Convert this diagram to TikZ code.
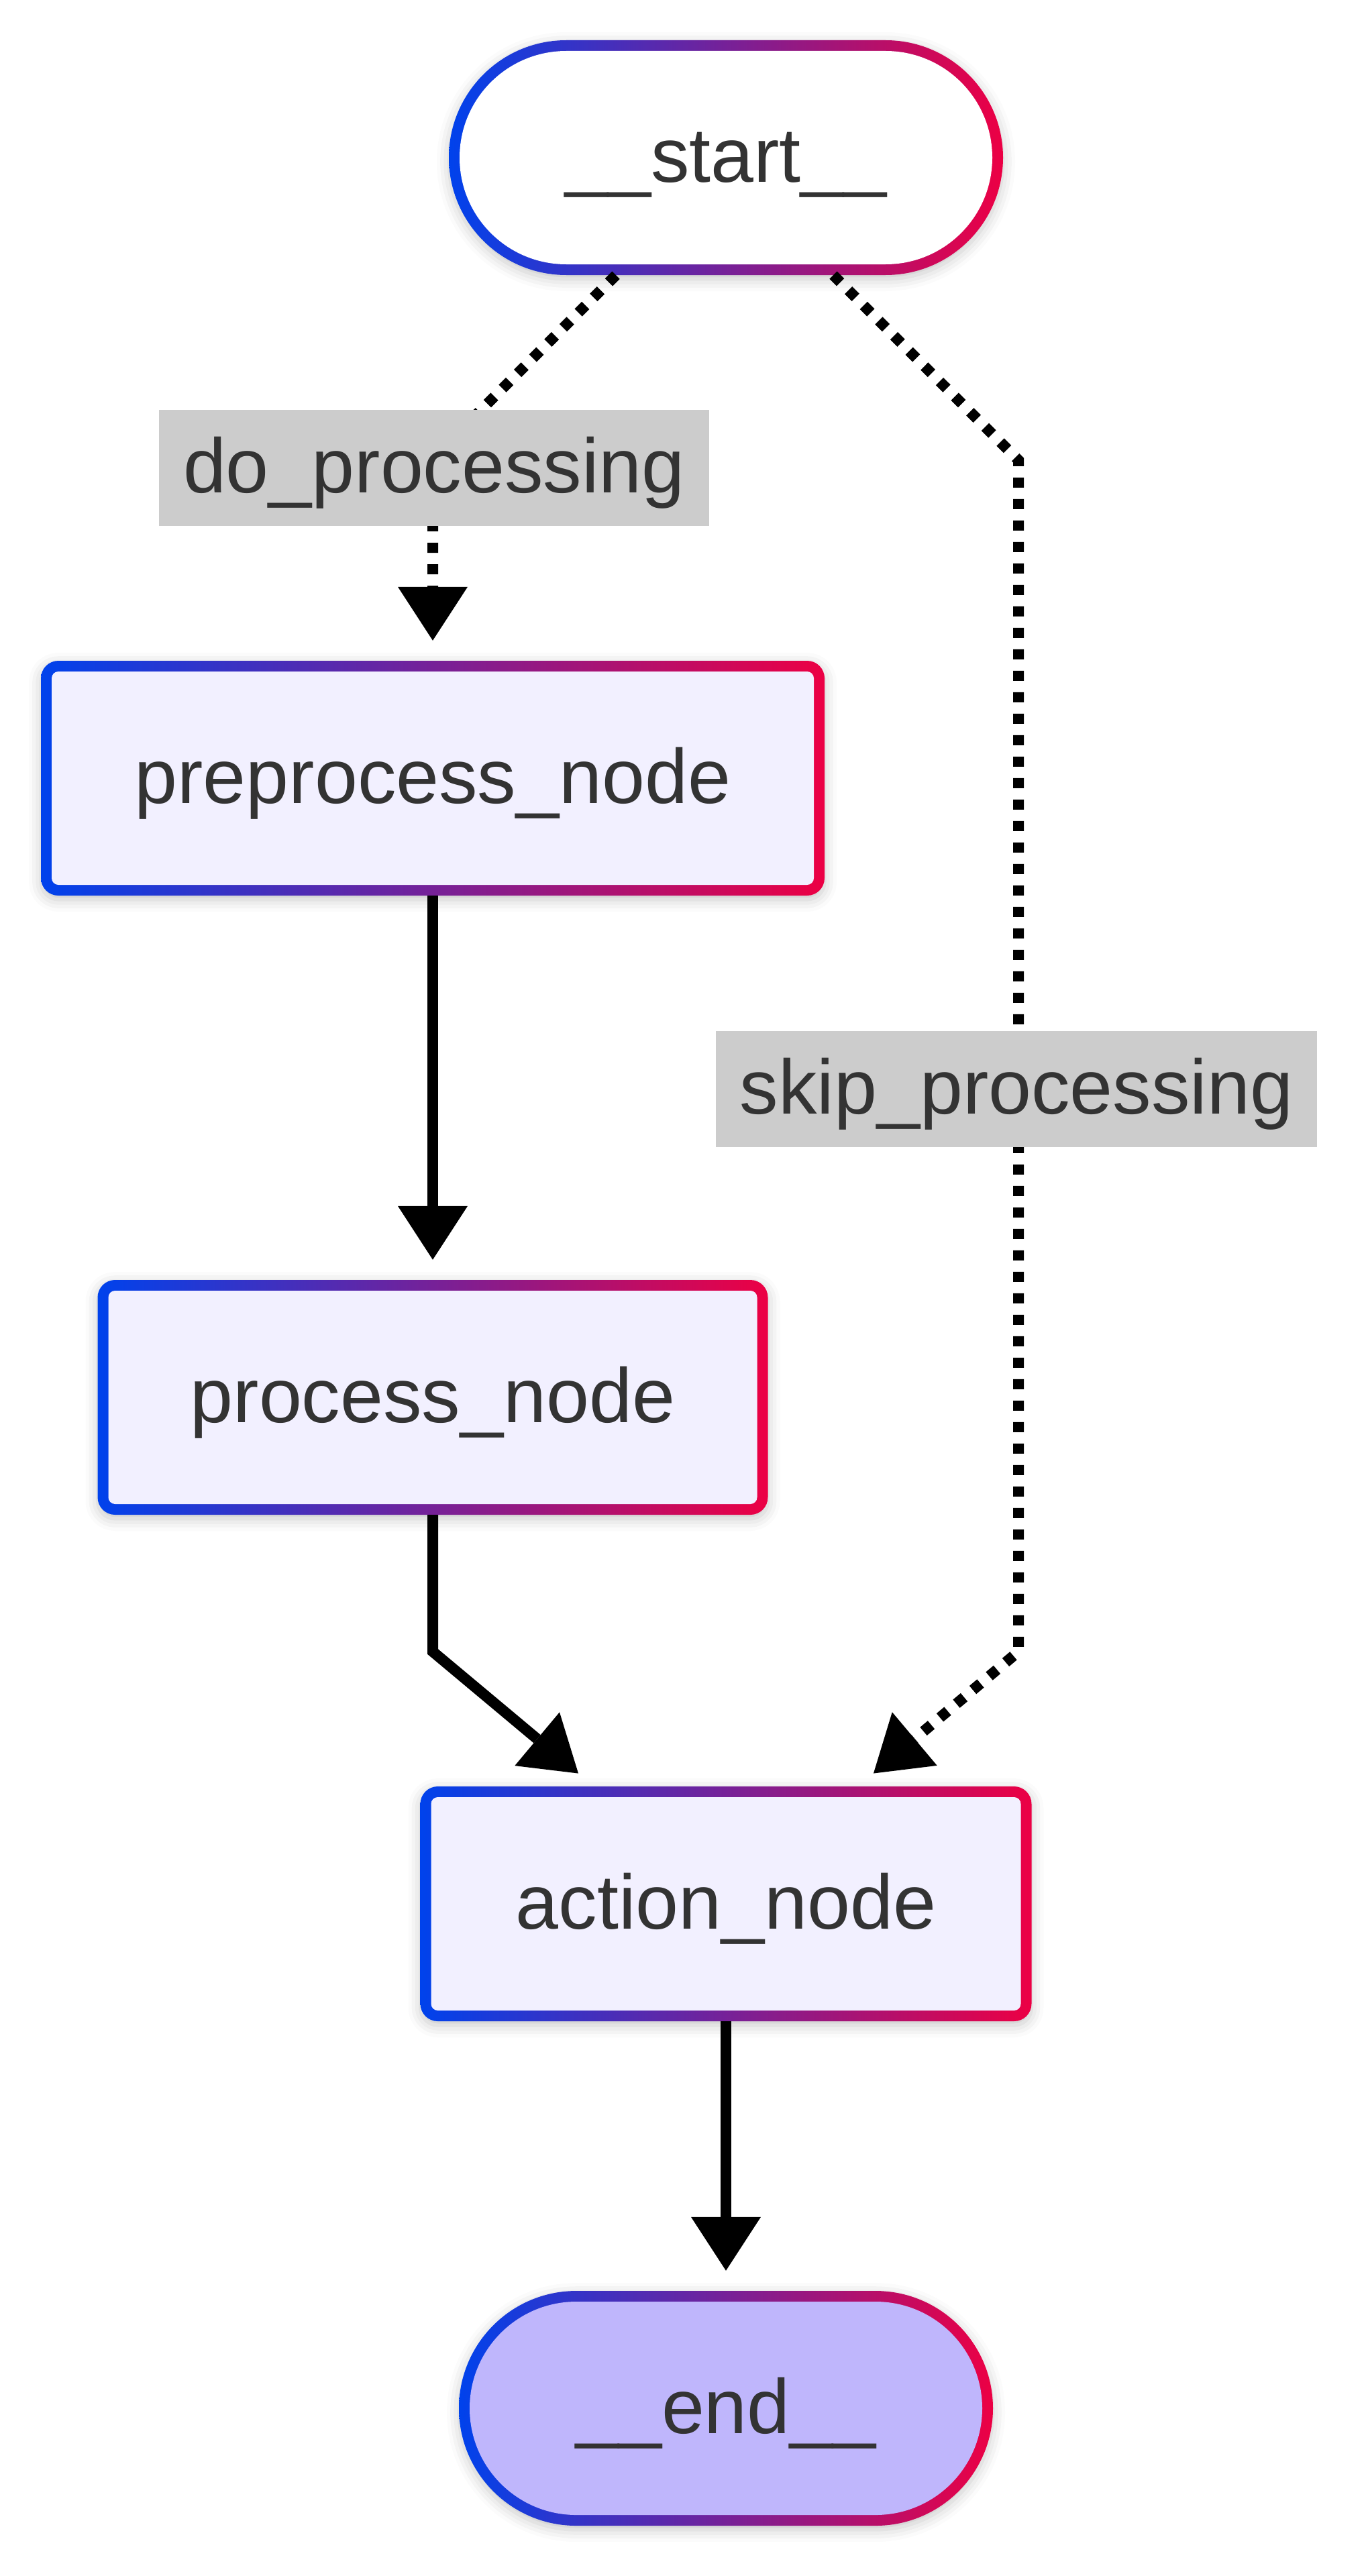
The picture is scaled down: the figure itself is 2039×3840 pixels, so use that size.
\documentclass[tikz,border=0pt]{standalone}
\usepackage{fontspec}
\setmainfont{Liberation Sans}
\usetikzlibrary{arrows.meta,shadows.blur}
\definecolor{gblue}{RGB}{0,66,236}
\definecolor{gred}{RGB}{236,0,68}
\definecolor{nodefill}{HTML}{F2F0FF}
\definecolor{endfill}{HTML}{BFB6FC}
\definecolor{txt}{HTML}{333333}
\definecolor{lblbg}{HTML}{CCCCCC}
\newcommand\bigfont{\fontsize{115}{138}\selectfont}
\begin{document}
\begin{tikzpicture}[x=1pt,y=-1pt,
  outerbox/.style={shape=rectangle, inner sep=0pt, draw=none, left color=gblue, right color=gred,
    blur shadow={shadow xshift=0pt, shadow yshift=-6pt, shadow blur radius=18pt, shadow opacity=22}},
  innerbox/.style={shape=rectangle, inner sep=0pt, draw=none, text=txt, font=\bigfont,
    text height=100pt, text depth=26pt},
  solidedge/.style={line width=16pt, draw=black, shorten >=30pt,
    -{Triangle[length=80pt,width=104pt,line width=0pt]}},
  dotedge/.style={solidedge, dash pattern=on 15pt off 17pt},
  lbl/.style={shape=rectangle, fill=lblbg, text=txt, font=\bigfont, inner xsep=36pt, inner ysep=0pt,
    minimum height=173pt, text height=100pt, text depth=26pt}
]
\useasboundingbox (0,0) rectangle (2039,3840);

% nodes
\node[outerbox, minimum width=826pt, minimum height=350pt, rounded corners=175pt] (start) at (1082,235) {};
\node[innerbox, fill=white, minimum width=794pt, minimum height=318pt, rounded corners=159pt] (starti) at (start) {\_\_start\_\_};

\node[outerbox, minimum width=1168pt, minimum height=350pt, rounded corners=26pt] (pre) at (645,1160) {};
\node[innerbox, fill=nodefill, minimum width=1136pt, minimum height=318pt, rounded corners=10pt] (prei) at (pre) {preprocess\_node};

\node[outerbox, minimum width=999pt, minimum height=350pt, rounded corners=26pt] (proc) at (645,2083) {};
\node[innerbox, fill=nodefill, minimum width=967pt, minimum height=318pt, rounded corners=10pt] (proci) at (proc) {process\_node};

\node[outerbox, minimum width=911pt, minimum height=350pt, rounded corners=26pt] (action) at (1082,2838) {};
\node[innerbox, fill=nodefill, minimum width=879pt, minimum height=318pt, rounded corners=10pt] (actioni) at (action) {action\_node};

\node[outerbox, minimum width=796pt, minimum height=350pt, rounded corners=175pt] (end) at (1082,3590) {};
\node[innerbox, fill=endfill, minimum width=764pt, minimum height=318pt, rounded corners=159pt] (endi) at (end) {\_\_end\_\_};

% bend points
\coordinate (b1) at (645,683);
\coordinate (b2) at (1518,686);
\coordinate (b3) at (1518,2462);
\coordinate (b4) at (645,2462);

% connectors
\draw[dotedge] ([xshift=-164pt]start.south) -- (b1) -- (pre.north);
\draw[dotedge] ([xshift=160pt]start.south) -- (b2) -- (b3) -- ([xshift=197pt]action.north);
\draw[solidedge] (pre.south) -- (proc.north);
\draw[solidedge] (proc.south) -- (b4) -- ([xshift=-197pt]action.north);
\draw[solidedge] (action.south) -- (end.north);

% edge labels
\node[lbl] (l1) at (647,697) {do\_processing};
\node[lbl] (l2) at (1515,1623) {skip\_processing};
\end{tikzpicture}
\end{document}
